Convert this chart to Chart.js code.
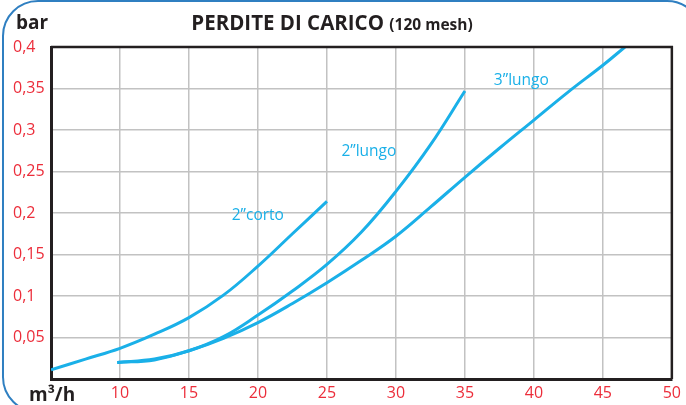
<!DOCTYPE html>
<html>
<head>
<meta charset="utf-8">
<script src="https://cdn.jsdelivr.net/npm/chart.js@4/dist/chart.umd.min.js"></script>
<style>
  html, body { margin: 0; padding: 0; background: #fff; }
  #wrap { width: 686px; height: 405px; position: relative; }
</style>
</head>
<body>
<div id="wrap"><canvas id="myChart" width="686" height="405"></canvas></div>
<script>
// portata m3/h -> perdita bar
const cortoX = [5, 7.5, 10, 12.5, 15, 17.5, 20, 22.5, 25];
const cortoY = [0.011, 0.024, 0.037, 0.054, 0.074, 0.101, 0.136, 0.175, 0.214];
const lungo2X = [9.8, 12.5, 15, 17.5, 20, 22.5, 25, 27.5, 30, 32.5, 35];
const lungo2Y = [0.02, 0.024, 0.034, 0.051, 0.077, 0.106, 0.138, 0.177, 0.226, 0.282, 0.347];
const lungo3X = [9.8, 12.5, 15, 17.5, 20, 22.5, 25, 27.5, 30, 32.5, 35, 37.5, 40, 42.5, 45, 46.6];
const lungo3Y = [0.02, 0.023, 0.034, 0.049, 0.068, 0.091, 0.116, 0.143, 0.172, 0.207, 0.243, 0.278, 0.312, 0.346, 0.378, 0.4];

const seriesNames = ['2\u201Dcorto', '2\u201Dlungo', '3\u201Dlungo'];
// where each curve name sits, in data units
const labelX = [18.1, 26.05, 37.1];
const labelY = [0.197, 0.274, 0.36];

const xTicks = [5, 10, 15, 20, 25, 30, 35, 40, 45, 50];
const yTicks = [0, 0.05, 0.1, 0.15, 0.2, 0.25, 0.3, 0.35, 0.4];

const blue = '#1ab0e8';
const red = '#ec2d3a';
const dark = '#231f20';

function pts(xs, ys) {
    return xs.map((x, i) => ({ x: x, y: ys[i] }));
}

const extras = {
    id: 'extras',
    beforeDraw(chart) {
        const c = chart.ctx;
        c.save();
        c.strokeStyle = '#2f7fc1';
        c.lineWidth = 2;
        c.beginPath();
        c.roundRect(3, 1, 699, 411, 35);
        c.stroke();
        c.restore();
    },
    afterDraw(chart) {
        const c = chart.ctx;
        const a = chart.chartArea;
        const xs = chart.scales.x, ys = chart.scales.y;
        c.save();
        // frame top/right
        c.strokeStyle = dark;
        c.lineWidth = 2.5;
        c.beginPath();
        c.moveTo(a.left, a.top);
        c.lineTo(a.right, a.top);
        c.lineTo(a.right, a.bottom);
        c.stroke();

        // title
        c.fillStyle = dark;
        c.textBaseline = 'alphabetic';
        const f1 = 'bold 20.5px "Open Sans"';
        const f2 = 'bold 15.5px "Open Sans"';
        const t1 = 'PERDITE DI CARICO ';
        const t2 = '(120 mesh)';
        c.font = f2;
        const w2 = c.measureText(t2).width;
        c.font = f1;
        const w1 = c.measureText(t1).width;
        const x0 = 332 - (w1 + w2) / 2;
        c.textAlign = 'left';
        c.fillText(t1, x0, 30);
        c.font = f2;
        c.fillText(t2, x0 + w1, 30);

        // axis units
        c.font = 'bold 19px "Open Sans"';
        c.fillText('bar', 16, 29);
        c.fillText('m\u00B3/h', 29, 401);

        // curve names
        c.fillStyle = blue;
        c.font = '15.5px "Open Sans"';
        c.textBaseline = 'middle';
        seriesNames.forEach((n, i) => {
            c.fillText(n, xs.getPixelForValue(labelX[i]), ys.getPixelForValue(labelY[i]));
        });
        c.restore();
    }
};

const lineStyle = {
    borderColor: blue,
    borderWidth: 3,
    pointRadius: 0,
    fill: false,
    showLine: true,
    tension: 0.4
};

const data = {
    datasets: [
        Object.assign({ label: seriesNames[0], data: pts(cortoX, cortoY) }, lineStyle),
        Object.assign({ label: seriesNames[1], data: pts(lungo2X, lungo2Y) }, lineStyle),
        Object.assign({ label: seriesNames[2], data: pts(lungo3X, lungo3Y) }, lineStyle)
    ]
};

const config = {
    type: 'scatter',
    data: data,
    options: {
        responsive: false,
        animation: false,
        layout: { padding: { left: 13, right: 12, top: 47, bottom: 0 } },
        plugins: {
            legend: { display: false },
            tooltip: { enabled: false }
        },
        scales: {
            x: {
                type: 'linear',
                min: 5,
                max: 50,
                afterBuildTicks: (s) => { s.ticks = xTicks.map(v => ({ value: v })); },
                afterFit: (s) => { s.height = 26; },
                grid: { color: '#c2c2c2', lineWidth: 1.5, drawTicks: false },
                border: { display: true, color: dark, width: 3 },
                ticks: {
                    color: red,
                    padding: 5,
                    font: { family: 'Open Sans', size: 16 },
                    callback: (v) => v === 5 ? '' : String(v)
                }
            },
            y: {
                type: 'linear',
                min: 0,
                max: 0.4,
                afterBuildTicks: (s) => { s.ticks = yTicks.map(v => ({ value: v })); },
                afterFit: (s) => { s.width = 38; },
                grid: { color: '#c2c2c2', lineWidth: 1.5, drawTicks: false },
                border: { display: true, color: dark, width: 3 },
                ticks: {
                    color: red,
                    crossAlign: 'far',
                    font: { family: 'Open Sans', size: 16 },
                    callback: (v) => v === 0 ? '' : String(Math.round(v * 100) / 100).replace('.', ',')
                }
            }
        }
    },
    plugins: [extras]
};

const chart = new Chart(document.getElementById('myChart'), config);
</script>
</body>
</html>
